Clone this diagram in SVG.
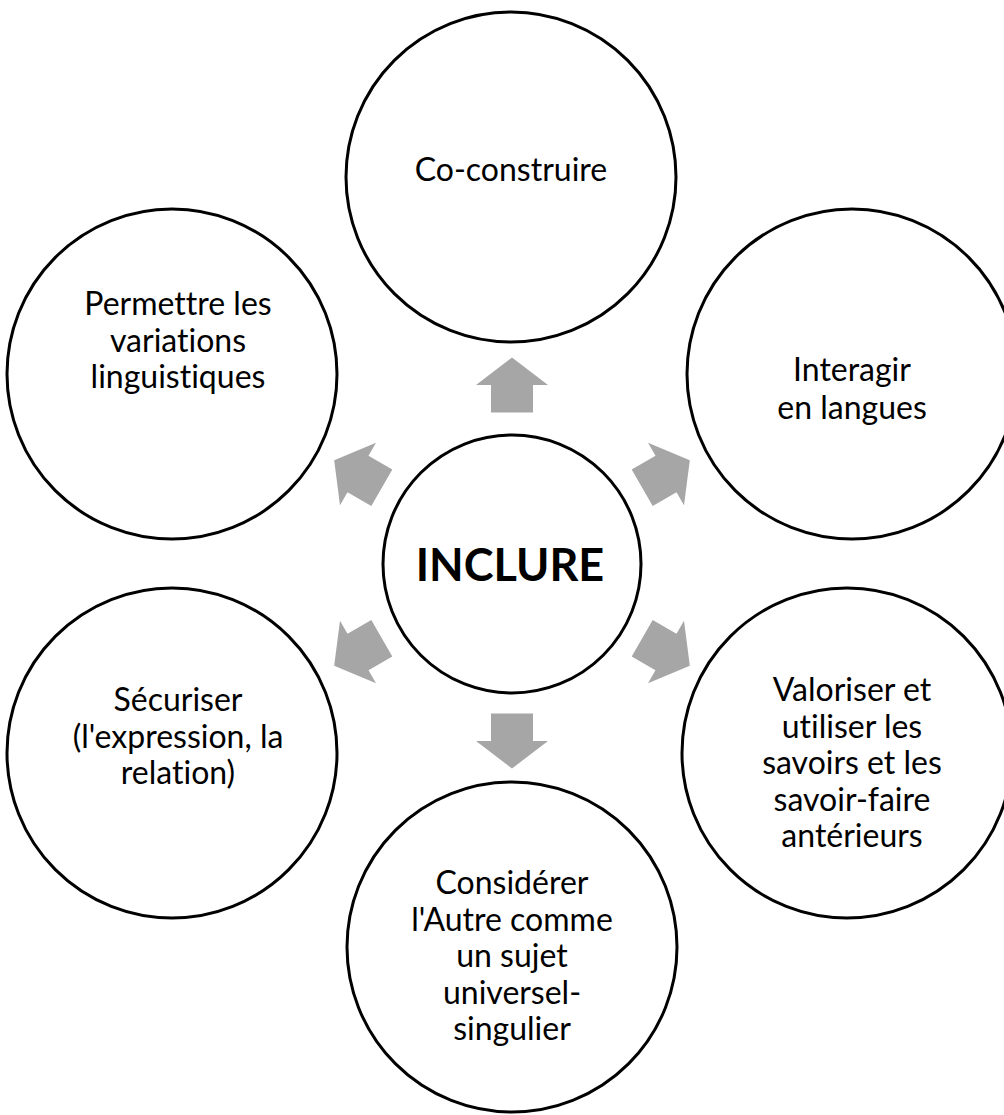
<svg xmlns="http://www.w3.org/2000/svg" width="1004" height="1115" viewBox="0 0 1004 1115">
<style>
.c{fill:#fff;stroke:#000;stroke-width:3}
.t{font-family:Lato,"Open Sans","Liberation Sans",sans-serif;font-size:32px;fill:#000;text-anchor:middle;font-variant-ligatures:none}
.b{font-weight:bold;font-size:45px}
.a{fill:#a6a6a6}
</style>
<defs>
<polygon id="arr" points="0,-27.5 36,0 21,0 21,27.5 -21,27.5 -21,0 -36,0"/>
</defs>
<rect width="1004" height="1115" fill="#fff"/>
<g id="connectors" class="a">
<use href="#arr" transform="translate(512,385)"/>
<use href="#arr" transform="translate(666,474) rotate(60)"/>
<use href="#arr" transform="translate(666,652) rotate(120)"/>
<use href="#arr" transform="translate(512,741) rotate(180)"/>
<use href="#arr" transform="translate(358,652) rotate(240)"/>
<use href="#arr" transform="translate(358,474) rotate(300)"/>
</g>
<g id="n-center"><circle class="c" cx="512" cy="564" r="129"/><text class="t b" x="510" y="581">INCLURE</text></g>
<g id="n-top"><circle class="c" cx="511" cy="177" r="165"/><text class="t" x="511" y="181">Co-construire</text></g>
<g id="n-ru"><circle class="c" cx="852" cy="374" r="165"/><text class="t" x="852" y="381">Interagir</text><text class="t" x="852" y="419">en langues</text></g>
<g id="n-rl"><circle class="c" cx="847" cy="753" r="165"/><text class="t" x="852" y="701">Valoriser et</text><text class="t" x="852" y="737.5">utiliser les</text><text class="t" x="852" y="774">savoirs et les</text><text class="t" x="852" y="810.5">savoir-faire</text><text class="t" x="852" y="847">antérieurs</text></g>
<g id="n-bottom"><circle class="c" cx="512" cy="947" r="165"/><text class="t" x="512" y="894">Considérer</text><text class="t" x="512" y="930.5">l'Autre comme</text><text class="t" x="512" y="967">un sujet</text><text class="t" x="512" y="1003.5">universel-</text><text class="t" x="512" y="1040">singulier</text></g>
<g id="n-ll"><circle class="c" cx="172" cy="753" r="165"/><text class="t" x="178" y="711">Sécuriser</text><text class="t" x="178" y="747.5">(l'expression, la</text><text class="t" x="178" y="784">relation)</text></g>
<g id="n-lu"><circle class="c" cx="172" cy="374" r="165"/><text class="t" x="178" y="315">Permettre les</text><text class="t" x="178" y="351.5">variations</text><text class="t" x="178" y="388">linguistiques</text></g>
</svg>
